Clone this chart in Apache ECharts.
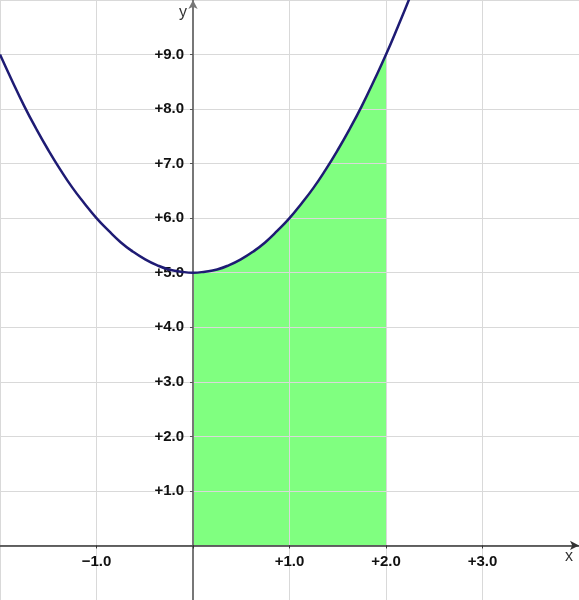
<!DOCTYPE html>
<html>
<head>
<meta charset="utf-8">
<script src="https://cdn.jsdelivr.net/npm/echarts@6/dist/echarts.min.js"></script>
<style>
  html, body { margin: 0; padding: 0; background: #fff; }
  #chart { width: 579px; height: 600px; }
</style>
</head>
<body>
<div id="chart"></div>
<script>
// curve points
const curveX = [-2, -1.875, -1.75, -1.625, -1.5, -1.375, -1.25, -1.125, -1, -0.875, -0.75, -0.625, -0.5, -0.375, -0.25, -0.125,
  0, 0.125, 0.25, 0.375, 0.5, 0.625, 0.75, 0.875, 1, 1.125, 1.25, 1.375, 1.5, 1.625, 1.75, 1.875, 2, 2.125, 2.25, 2.375, 2.5]
const curveY = [9, 8.52, 8.06, 7.64, 7.25, 6.89, 6.56, 6.27, 6, 5.77, 5.56, 5.39, 5.25, 5.14, 5.06, 5.02,
  5, 5.02, 5.06, 5.14, 5.25, 5.39, 5.56, 5.77, 6, 6.27, 6.56, 6.89, 7.25, 7.64, 8.06, 8.52, 9, 9.52, 10.06, 10.64, 11.25]

// shaded region under the curve, x from 0 to 2
const areaX = [0, 0.125, 0.25, 0.375, 0.5, 0.625, 0.75, 0.875, 1, 1.125, 1.25, 1.375, 1.5, 1.625, 1.75, 1.875, 2]
const areaY = [5, 5.02, 5.06, 5.14, 5.25, 5.39, 5.56, 5.77, 6, 6.27, 6.56, 6.89, 7.25, 7.64, 8.06, 8.52, 9]

const xTicks = [-1, 1, 2, 3]
const xTickLabels = ['\u22121.0', '+1.0', '+2.0', '+3.0']
const yTicks = [1, 2, 3, 4, 5, 6, 7, 8, 9]
const yTickLabels = ['+1.0', '+2.0', '+3.0', '+4.0', '+5.0', '+6.0', '+7.0', '+8.0', '+9.0']

const W = 579
const H = 600
const xMin = -2, xMax = 4, yMin = -1, yMax = 10

const labelFont = { fontFamily: '"Liberation Sans", Arial, sans-serif', fontWeight: 'bold', fontSize: 15, color: '#111' }
const nameFont = { fontFamily: '"Liberation Sans", Arial, sans-serif', fontSize: 16, color: '#333' }
const gridColor = '#d9d9d9'

const pick = (ticks, labels) => v => {
  const i = ticks.indexOf(Math.round(v * 1000) / 1000)
  return i < 0 ? '' : labels[i]
}

const chart = echarts.init(document.getElementById('chart'), null, { renderer: 'canvas' })

chart.setOption({
  animation: false,
  grid: { left: 0, right: 0, top: 0, bottom: 0, containLabel: false, outerBoundsMode: 'none' },
  xAxis: {
    type: 'value',
    min: xMin,
    max: xMax,
    interval: 1,
    position: 'bottom',
    // move the whole axis (line, ticks, labels) up to y = 0
    offset: -H * (0 - yMin) / (yMax - yMin),
    name: 'x',
    nameLocation: 'end',
    nameGap: -14,
    nameTextStyle: { ...nameFont, verticalAlign: 'top', padding: [3, 0, 0, 0] },
    axisLine: { onZero: false, lineStyle: { color: '#333', width: 1.5 }, symbol: ['none', 'arrow'], symbolSize: [7, 9] },
    axisTick: { show: true, length: 3, lineStyle: { color: '#333' } },
    axisLabel: { ...labelFont, margin: 9, showMinLabel: false, showMaxLabel: false, formatter: pick(xTicks, xTickLabels) },
    splitLine: { show: true, lineStyle: { color: gridColor, width: 1 } },
  },
  yAxis: {
    type: 'value',
    min: yMin,
    max: yMax,
    interval: 1,
    position: 'left',
    // move the whole axis right to x = 0
    offset: -W * (0 - xMin) / (xMax - xMin),
    name: 'y',
    nameLocation: 'end',
    nameGap: -5,
    nameTextStyle: { ...nameFont, align: 'right', verticalAlign: 'top', padding: [0, 6, 0, 0] },
    axisLine: { onZero: false, lineStyle: { color: '#777', width: 2 }, symbol: ['none', 'arrow'], symbolSize: [7, 9] },
    axisTick: { show: true, length: 3, lineStyle: { color: '#555' } },
    axisLabel: { ...labelFont, margin: 9, showMinLabel: false, showMaxLabel: false, formatter: pick(yTicks, yTickLabels) },
    splitLine: { show: true, lineStyle: { color: gridColor, width: 1 } },
  },
  series: [
    {
      type: 'line',
      z: -1,
      silent: true,
      smooth: true,
      symbol: 'none',
      lineStyle: { width: 0 },
      areaStyle: { color: '#80ff80', opacity: 1, origin: 'auto' },
      data: areaX.map((x, i) => [x, areaY[i]]),
    },
    {
      type: 'line',
      z: 3,
      smooth: true,
      symbol: 'none',
      lineStyle: { color: '#1e1b74', width: 2.5 },
      data: curveX.map((x, i) => [x, curveY[i]]),
    },
  ],
})
</script>
</body>
</html>
